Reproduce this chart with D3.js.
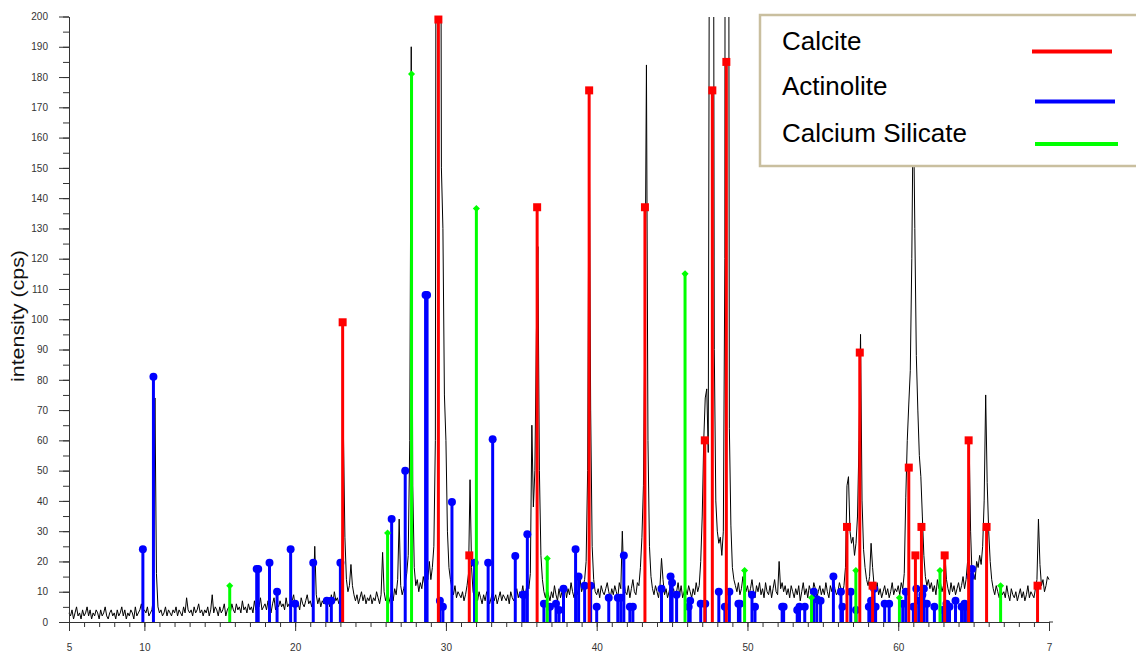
<!DOCTYPE html>
<html><head><meta charset="utf-8">
<script src="https://cdn.jsdelivr.net/npm/d3@7"></script>
<style>
body{margin:0;background:#fff;}
svg{display:block;font-family:"Liberation Sans",Arial,Helvetica,sans-serif;}
</style>
</head><body>
<svg id="chart" width="1136" height="653"></svg>
<script>
// ---------------- DATA ----------------
const spectrumStart = 5, spectrumStep = 0.1;
const spectrum = [
 3,2,4,1,3,5,2,3,1,4,
 2,3,5,2,4,1,3,2,4,3,
 1,4,2,3,5,2,1,3,4,2,
 3,1,4,2,3,5,2,4,1,3,
 2,4,3,1,5,2,3,4,6,3,
 4,3,5,2,3,4,8,74,16,5,
 3,4,2,3,5,2,4,3,2,4,
 3,5,2,4,3,2,5,3,8,4,
 3,4,2,5,3,4,6,3,4,2,
 4,3,5,2,4,9,3,5,4,2,
 5,3,4,6,2,4,5,3,6,4,
 3,6,4,5,3,7,4,5,3,6,
 4,5,3,7,4,6,5,8,4,5,
 6,4,7,5,3,6,8,4,6,5,
 7,5,6,4,8,5,6,4,7,9,
 5,7,6,4,8,6,5,7,9,6,
 7,5,8,25,9,6,8,5,7,6,
 8,6,7,5,9,6,10,7,8,6,
 8,12,63,28,14,10,12,19,12,9,
 7,9,6,8,10,7,9,6,8,7,
 9,6,8,7,10,8,6,9,23,10,
 7,9,6,8,10,7,11,9,14,34,
 12,9,11,13,16,22,60,190,45,18,
 12,14,10,13,11,15,12,18,14,20,
 14,18,25,60,500,900,400,150,130,75,
 60,30,18,14,11,9,12,8,10,9,
 8,10,7,9,12,16,47,18,10,8,
 9,7,10,8,6,9,7,10,8,6,
 8,10,7,9,6,8,10,7,9,8,
 7,9,6,10,8,7,9,11,8,10,
 9,12,8,10,13,11,16,65,38,50,
 95,124,50,22,14,10,8,11,9,7,
 10,8,12,9,7,11,8,10,9,12,
 8,11,9,13,10,8,12,9,11,14,
 10,12,14,20,50,169,70,25,14,10,
 9,11,8,12,10,9,11,13,10,8,
 11,9,12,10,8,13,11,30,14,10,
 9,12,8,11,14,10,9,13,12,18,
 28,45,100,184,60,25,15,11,9,12,
 10,8,12,21,14,9,11,8,10,12,
 9,11,8,10,13,9,12,8,10,11,
 9,12,10,8,11,9,13,10,12,20,
 35,60,74,77,56,300,900,400,90,40,
 30,26,28,22,30,120,900,500,64,32,
 18,14,12,10,13,9,11,15,12,10,
 12,9,11,14,10,8,12,10,13,9,
 11,8,13,10,9,12,8,11,14,10,
 9,20,11,13,10,12,9,11,8,12,
 10,8,11,9,12,7,10,13,9,11,
 8,12,10,9,13,11,8,10,12,9,
 11,9,13,10,8,12,10,14,11,9,
 10,13,11,9,12,18,45,48,30,26,
 28,22,26,35,60,95,40,24,18,14,
 12,15,26,18,12,10,13,9,11,8,
 10,12,9,11,8,10,13,9,11,10,
 12,9,13,11,16,41,60,72,83,120,
 175,130,88,70,55,48,35,22,15,12,
 14,11,13,10,12,9,14,11,13,10,
 12,22,14,11,9,13,10,12,9,11,
 13,10,12,15,11,14,20,61,30,15,
 16,14,20,18,22,19,25,40,75,46,
 30,20,14,11,9,12,10,8,11,9,
 10,8,12,9,7,11,9,8,10,7,
 9,11,8,10,7,9,12,8,10,9,
 8,11,14,34,19,12,14,10,12,15,
 14
];

const calciteX = [23.15,29.5,31.55,36.05,39.5,43.2,47.17,47.67,48.6,56.6,57.45,58.3,60.7,61.14,61.54,63.08,64.67,65.86,69.24];
const calciteY = [99,199,22,137,175.6,137,60,175.6,185,31.4,89,12,51,22,31.4,22,60,31.4,12];

const actinoliteX = [9.9,10.6,17.45,17.55,18.3,18.8,19.7,20.0,21.2,22.1,22.4,23.0,26.4,27.3,28.65,28.75,29.6,29.8,30.4,31.9,32.8,33.1,34.6,35.1,35.2,35.4,36.5,36.9,37.3,37.5,37.8,38.6,38.8,39.2,39.6,40.0,40.8,41.4,41.6,41.8,42.2,42.4,44.3,44.9,45.0,45.3,46.1,46.2,46.9,47.2,48.1,48.5,48.8,49.4,49.5,50.3,50.5,52.3,52.4,53.3,53.45,53.8,54.4,54.6,54.85,55.7,56.2,56.3,56.85,57.2,58.05,58.2,58.4,58.5,59.1,59.4,60.3,60.5,61.0,61.2,61.4,61.6,61.7,61.9,62.4,62.95,63.2,63.4,63.8,64.2,64.4,64.6,64.8,64.9];
const actinoliteY = [24,81,17.5,17.5,19.6,10,24,6,19.6,7,7,19.6,34,50,108,108,7,5,39.6,19.6,19.6,60.4,21.8,9,9,29,6,5,6,4,11,24,15,12,12,5,8,8,8,22,5,5,11,15,13,9,5,7,6,6,10,5,10,6,6,9,5,5,5,4,5,5,10,7.5,7,15,10,5,10,4,5,7,11,5,6,6,6,10,5,11,7,9,11,6,5,4,6,5,7,5,6,5,15,17.5];

const silicateX = [15.66,26.13,27.72,32.02,36.72,45.86,49.81,54.25,57.19,60.08,62.77,66.79];
const silicateY = [12,29.4,181,136.6,21,115,17,8,17,8,17,12];

const xMajorTicks = [5,10,20,30,40,50,60,70];
const xTickLabels = ["5","10","20","30","40","50","60","7"];
const yMajorTicks = [0,10,20,30,40,50,60,70,80,90,100,110,120,130,140,150,160,170,180,190,200];
const yTickLabels = ["0","10","20","30","40","50","60","70","80","90","100","110","120","130","140","150","160","170","180","190","200"];

const legendNames = ["Calcite","Actinolite","Calcium Silicate"];
const legendColors = ["#ff0000","#0000ff","#00ff00"];
const yTitle = "intensity (cps)";

// ---------------- CHART ----------------
const svg = d3.select("#chart");
const x = d3.scaleLinear().domain([5,70]).range([69,1049]);
const y = d3.scaleLinear().domain([0,200]).range([622,16.5]);

const defs = svg.append("defs");
defs.append("clipPath").attr("id","plotclip")
  .append("rect").attr("x",60).attr("y",17).attr("width",1000).attr("height",606);
defs.append("clipPath").attr("id","markclip")
  .append("rect").attr("x",60).attr("y",10).attr("width",1000).attr("height",613);

// spectrum line
const specPts = spectrum.map((v,i)=>[spectrumStart+i*spectrumStep, v]);
svg.append("path")
  .attr("clip-path","url(#plotclip)")
  .attr("d", d3.line().x(d=>x(d[0])).y(d=>y(d[1]))(specPts))
  .attr("fill","none").attr("stroke","#000").attr("stroke-width",1);

// stems
function stems(xs, ys, color, shape, size){
  const g = svg.append("g").attr("clip-path","url(#markclip)");
  const data = xs.map((v,i)=>({x:v,y:ys[i]}));
  g.selectAll("line").data(data).join("line")
    .attr("x1",d=>x(d.x)).attr("x2",d=>x(d.x))
    .attr("y1",y(0)).attr("y2",d=>y(d.y))
    .attr("stroke",color).attr("stroke-width",3);
  g.selectAll("path.m").data(data).join("path").attr("class","m")
    .attr("transform",d=>`translate(${x(d.x)},${y(d.y)})`)
    .attr("d", d3.symbol().type(shape).size(size))
    .attr("fill",color);
}
stems(actinoliteX, actinoliteY, "#0000ff", d3.symbolCircle, 50);
stems(silicateX, silicateY, "#00ff00", d3.symbolDiamond2 || d3.symbolDiamond, 32);
stems(calciteX, calciteY, "#ff0000", d3.symbolSquare, 64);

// axes
const axisColor = "#333";
const xMinor = svg.append("g").attr("transform",`translate(0,${y(0)})`)
  .call(d3.axisBottom(x).tickValues(d3.range(5,71,1)).tickSize(5).tickSizeOuter(0).tickFormat(""));
const xMajor = svg.append("g").attr("transform",`translate(0,${y(0)})`)
  .call(d3.axisBottom(x).tickValues(xMajorTicks).tickSize(9).tickSizeOuter(0).tickPadding(13)
    .tickFormat((d,i)=>xTickLabels[i]));
const yMinor = svg.append("g").attr("transform",`translate(${x(5)},0)`)
  .call(d3.axisLeft(y).tickValues(d3.range(0,201,5)).tickSize(6).tickSizeOuter(0).tickFormat(""));
const yMajor = svg.append("g").attr("transform",`translate(${x(5)},0)`)
  .call(d3.axisLeft(y).tickValues(yMajorTicks).tickSize(10).tickSizeOuter(0).tickPadding(11)
    .tickFormat((d,i)=>yTickLabels[i]));
[xMinor,xMajor,yMinor,yMajor].forEach(g=>{
  g.selectAll("path,line").attr("stroke",axisColor);
  g.selectAll("text").attr("fill","#333").attr("font-size",10).attr("font-family",'"Liberation Sans",Arial,sans-serif');
});
svg.append("line").attr("x1",x(70)).attr("x2",x(70)+4).attr("y1",y(0)).attr("y2",y(0)).attr("stroke",axisColor);

// y title
svg.append("text")
  .attr("transform","translate(24,316) rotate(-90)")
  .attr("text-anchor","middle")
  .attr("font-size",18)
  .attr("textLength",132).attr("lengthAdjust","spacingAndGlyphs")
  .attr("fill","#111")
  .text(yTitle);

// legend
const lg = svg.append("g");
lg.append("rect").attr("x",760).attr("y",15).attr("width",400).attr("height",151)
  .attr("fill","#fff").attr("stroke","#c9bf9f").attr("stroke-width",2.5);
const legY = [50,95,142];
const lineX1 = [1032,1035,1035], lineX2=[1112,1115,1118], lineY=[51.5,101.5,144];
legendNames.forEach((n,i)=>{
  lg.append("text").attr("x",782).attr("y",legY[i]).attr("font-size",26).attr("fill","#000").text(n);
  lg.append("line").attr("x1",lineX1[i]).attr("x2",lineX2[i]).attr("y1",lineY[i]).attr("y2",lineY[i])
    .attr("stroke",legendColors[i]).attr("stroke-width",4);
});
</script>
</body></html>
